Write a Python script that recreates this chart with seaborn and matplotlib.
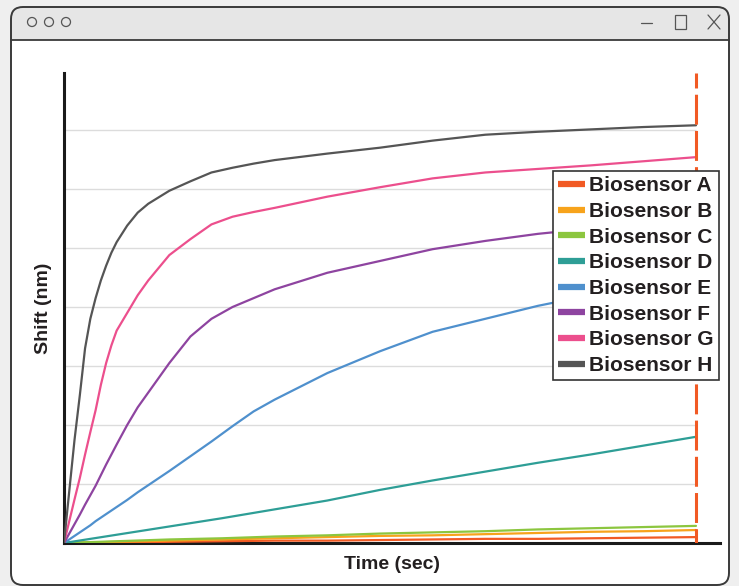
import matplotlib
matplotlib.use('Agg')
import matplotlib.pyplot as plt
import seaborn as sns
import pandas as pd
from matplotlib.lines import Line2D
from matplotlib.patches import FancyBboxPatch, Rectangle, Circle

# --- data (time in sec, shift in nm) ---
t_fast = [0, 5, 10, 15, 20, 25, 30, 35, 40, 45, 50, 60, 70, 80, 100, 120, 140, 160,
          180, 200, 250, 300, 350, 400, 450, 500, 550, 600]
shift_h = [0, 0.88, 1.75, 2.5, 3.3, 3.8, 4.15, 4.45, 4.7, 4.92, 5.1, 5.38, 5.6, 5.75, 5.97,
           6.13, 6.28, 6.36, 6.43, 6.49, 6.6, 6.7, 6.82, 6.92, 6.97, 7.01, 7.05, 7.08]
shift_g = [0, 0.37, 0.74, 1.1, 1.5, 1.88, 2.25, 2.68, 3.05, 3.35, 3.6, 3.9, 4.2, 4.45, 4.88,
           5.15, 5.4, 5.53, 5.61, 5.68, 5.87, 6.03, 6.18, 6.28, 6.34, 6.4, 6.47, 6.54]
shift_f = [0, 0.16, 0.32, 0.48, 0.65, 0.81, 0.97, 1.15, 1.33, 1.5, 1.67, 2.0, 2.3, 2.55, 3.05,
           3.5, 3.8, 4.0, 4.15, 4.3, 4.58, 4.78, 4.98, 5.12, 5.24, 5.33, 5.4, 5.47]
shift_e = [0, 0.06, 0.12, 0.18, 0.24, 0.3, 0.37, 0.43, 0.49, 0.55, 0.61, 0.73, 0.86, 0.98, 1.22,
           1.47, 1.72, 1.98, 2.23, 2.43, 2.88, 3.25, 3.58, 3.8, 4.02, 4.2, 4.33, 4.45]

t_slow = [0, 50, 100, 150, 200, 250, 300, 350, 400, 450, 500, 550, 600]
shift_d = [0, 0.14, 0.28, 0.42, 0.57, 0.72, 0.9, 1.06, 1.21, 1.36, 1.5, 1.65, 1.8]
shift_c = [0, 0.03, 0.06, 0.08, 0.11, 0.13, 0.16, 0.18, 0.2, 0.23, 0.25, 0.27, 0.29]
shift_b = [0, 0.02, 0.04, 0.06, 0.08, 0.1, 0.12, 0.13, 0.15, 0.17, 0.19, 0.2, 0.22]
shift_a = [0, 0.01, 0.02, 0.03, 0.04, 0.04, 0.05, 0.06, 0.07, 0.07, 0.08, 0.09, 0.1]

sensors = ["Biosensor A", "Biosensor B", "Biosensor C", "Biosensor D",
           "Biosensor E", "Biosensor F", "Biosensor G", "Biosensor H"]
colors = ["#f15a24", "#f7a31c", "#8cc63f", "#2e9e96",
          "#4f90cd", "#8e44a0", "#ec4f8d", "#555555"]
end_time = 600
grid_levels = [1, 2, 3, 4, 5, 6, 7]

series = {
    "Biosensor A": (t_slow, shift_a), "Biosensor B": (t_slow, shift_b),
    "Biosensor C": (t_slow, shift_c), "Biosensor D": (t_slow, shift_d),
    "Biosensor E": (t_fast, shift_e), "Biosensor F": (t_fast, shift_f),
    "Biosensor G": (t_fast, shift_g), "Biosensor H": (t_fast, shift_h),
}
rows = []
for name, (ts, vs) in series.items():
    for t, v in zip(ts, vs):
        rows.append({"sensor": name, "time": t, "shift": v})
df = pd.DataFrame(rows)

sns.set_style("white")
plt.rcParams['font.family'] = ['Liberation Sans', 'DejaVu Sans']
W, H = 739, 586
fig = plt.figure(figsize=(W / 100, H / 100), dpi=100)

# --- window frame drawn in pixel coords ---
bg = fig.add_axes([0, 0, 1, 1], zorder=0)
bg.set_xlim(0, W)
bg.set_ylim(H, 0)
bg.axis('off')
bg.add_patch(Rectangle((0, 0), W, H, facecolor="#efefef", edgecolor="none"))
win = FancyBboxPatch((11, 7), 718, 578, boxstyle="round,pad=0,rounding_size=12",
                     facecolor="#e6e6e6", edgecolor="none")
bg.add_patch(win)
body = Rectangle((11, 40), 718, 560, facecolor="white", edgecolor="none")
bg.add_patch(body)
body.set_clip_path(win)
bg.plot([11, 729], [40, 40], color="#3a3a3a", lw=1.3)
bg.add_patch(FancyBboxPatch((11, 7), 718, 578, boxstyle="round,pad=0,rounding_size=12",
                            facecolor="none", edgecolor="#3a3a3a", lw=1.4))
for cx in [32, 49, 66]:
    bg.add_patch(Circle((cx, 22), 4.5, facecolor="none", edgecolor="#555555", lw=0.9))
bg.plot([641, 652], [23, 23], color="#555555", lw=0.9)
bg.add_patch(Rectangle((675, 15), 11, 14, facecolor="none", edgecolor="#555555", lw=0.9))
bg.plot([708, 720], [15, 29], color="#555555", lw=0.9)
bg.plot([708, 720], [29, 15], color="#555555", lw=0.9)

# --- chart ---
ax = fig.add_axes([64 / W, 1 - 543 / H, 656 / W, 470 / H], zorder=1)
ax.set_facecolor("none")
ax.hlines(grid_levels, 0, end_time, color="#dcdcdc", lw=1.0, zorder=1)

palette = dict(zip(sensors, colors))
sns.lineplot(data=df, x="time", y="shift", hue="sensor", hue_order=sensors,
             palette=palette, linewidth=1.6, legend=False, ax=ax, zorder=3)

ymax = 7.966
ax.plot([end_time, end_time], [ymax, 0], color="#f15a24", lw=2.2,
        linestyle=(4.9, (9.8, 2.05)), zorder=4)

ax.set_xlim(0, 622.8)
ax.set_ylim(0, ymax)
ax.set_xticks([])
ax.set_yticks([])
for side in ["top", "right"]:
    ax.spines[side].set_visible(False)
for side in ["left", "bottom"]:
    ax.spines[side].set_color("#1a1a1a")
    ax.spines[side].set_linewidth(2.2)

ax.set_xlabel("Time (sec)", fontsize=14, fontweight="bold", color="#231f20")
ax.set_ylabel("Shift (nm)", fontsize=14, fontweight="bold", color="#231f20")
ax.xaxis.set_label_coords(0.5, -0.028)
ax.yaxis.set_label_coords(-0.018, 0.5)

handles = [Line2D([0], [0], color=c, lw=4.5, solid_capstyle="butt") for c in colors]
leg = ax.legend(handles, sensors, loc="upper left", bbox_to_anchor=(553 / W, 1 - 171 / H),
                bbox_transform=fig.transFigure, prop={"weight": "bold", "size": 15},
                frameon=True, fancybox=False, framealpha=1, edgecolor="#333333",
                handlelength=1.3, handletextpad=0.2, labelspacing=0.32,
                borderpad=0.25, borderaxespad=0)
leg.get_frame().set_linewidth(1.2)
for txt in leg.get_texts():
    txt.set_color("#231f20")
leg.set_zorder(5)

plt.savefig("out.png", dpi=100)
plt.close()
